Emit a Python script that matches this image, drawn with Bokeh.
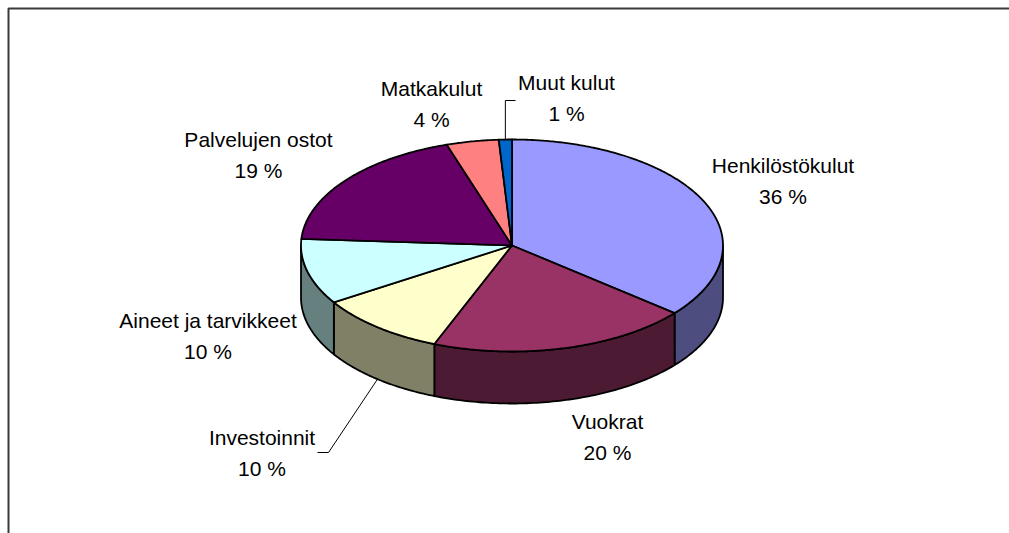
import numpy as np
from bokeh.plotting import figure
from bokeh.models import Range1d, ColumnDataSource
from bokeh.core.properties import value
from bokeh.embed import file_html
from bokeh.resources import INLINE

# ---- data ----
categories = ["Henkilöstökulut", "Vuokrat", "Investoinnit", "Aineet ja tarvikkeet",
              "Palvelujen ostot", "Matkakulut", "Muut kulut"]
shares = [36, 20, 10, 10, 19, 4, 1]
pct_labels = ["36 %", "20 %", "10 %", "10 %", "19 %", "4 %", "1 %"]

# ---- style ----
top_colors = ["#9999FF", "#993366", "#FFFFCC", "#CCFFFF", "#660066", "#FF8080", "#0066CC"]
side_colors = ["#4D4D80", "#4D1A33", "#808066", "#668080", "#330033", "#804040", "#003366"]

W, H = 1009, 533
cx, cy, rx, ry, depth = 511.5, 245.0, 211.0, 106.0, 52.0

# label layout (center x, baseline y of first line)
label_pos = [(782.5, 165), (607, 421), (261.5, 437), (207.5, 320),
             (258, 139), (431, 88), (566, 82)]
line_gap = 31

p = figure(width=W, height=H, output_backend="svg", toolbar_location=None,
           x_range=Range1d(0, W), y_range=Range1d(H, 0), min_border=0,
           background_fill_color="white", border_fill_color="white")
p.axis.visible = False
p.grid.visible = False
p.outline_line_color = None

def pt(t_deg, dy=0.0):
    t = np.radians(t_deg)
    return cx + rx * np.sin(t), cy - ry * np.cos(t) + dy

total = float(sum(shares))
angles = np.concatenate([[0.0], np.cumsum(shares) / total * 360.0])

# side faces
sx, sy, sc = [], [], []
for i in range(len(shares)):
    a0, a1 = max(angles[i], 90.0), min(angles[i + 1], 270.0)
    if a1 <= a0:
        continue
    ts = np.linspace(a0, a1, 80)
    xt, yt = pt(ts)
    xb, yb = pt(ts[::-1], depth)
    sx.append(list(xt) + list(xb))
    sy.append(list(yt) + list(yb))
    sc.append(side_colors[i])
p.patches(sx, sy, fill_color=sc, line_color="black", line_width=1.8, line_join="round")

# top faces
tx, ty = [], []
for i in range(len(shares)):
    ts = np.linspace(angles[i], angles[i + 1], max(4, int((angles[i + 1] - angles[i]) * 2)))
    xa, ya = pt(ts)
    tx.append([cx] + list(xa))
    ty.append([cy] + list(ya))
p.patches(tx, ty, fill_color=top_colors, line_color="black", line_width=1.8, line_join="round")

# leader lines
mid = (angles[:-1] + angles[1:]) / 2
# Muut kulut (index 6): to top edge
mx, my = pt(mid[6])
p.line([515, mx, mx], [100, 100, my], line_color="black", line_width=1)
# Investoinnit (index 2): to side bottom
ix, iy = pt(mid[2], depth)
p.line([317, 328, ix], [452, 452, iy], line_color="black", line_width=1)

# labels
src = ColumnDataSource(dict(
    x=[lp[0] for lp in label_pos] * 2,
    y=[lp[1] for lp in label_pos] + [lp[1] + line_gap for lp in label_pos],
    t=categories + pct_labels))
p.text(x="x", y="y", text="t", source=src, text_font=value("Liberation Sans"),
       text_font_size="21px", text_align="center", text_baseline="alphabetic",
       text_color="black")

# chart frame
p.line([8, 8, W + 5], [H + 5, 8, 8], line_color="#3a3a3a", line_width=2)

open("out.html", "w").write(file_html(p, INLINE))
